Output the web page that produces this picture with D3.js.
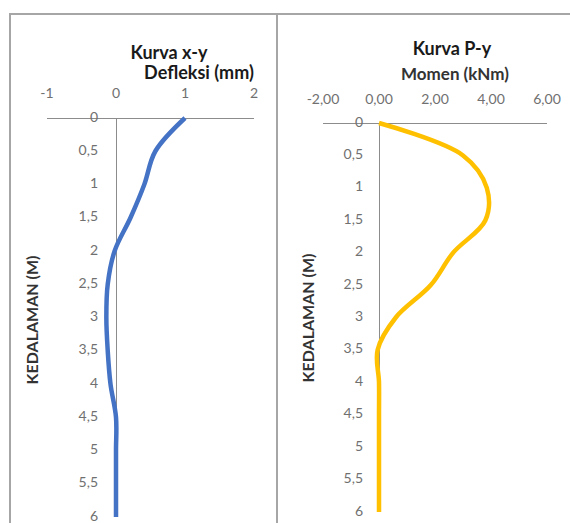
<!DOCTYPE html>
<html>
<head>
<meta charset="utf-8">
<script src="https://cdn.jsdelivr.net/npm/d3@7"></script>
<style>
  html, body { margin: 0; padding: 0; background: #fff; }
  svg { display: block; }
  text { font-family: Lato, "Open Sans", sans-serif; }
</style>
</head>
<body>
<svg id="chart" width="570" height="523"></svg>
<script>
// ---- data ----
const depth = [0, 0.5, 1, 1.5, 2, 2.5, 3, 3.5, 4, 4.5, 5, 5.5, 6];
const deflection = [1.0, 0.57, 0.41, 0.21, -0.02, -0.12, -0.14, -0.12, -0.08, 0, 0, 0, 0];
const moment = [0, 3.0, 3.85, 3.8, 2.65, 1.85, 0.6, -0.05, 0, 0, 0, 0, 0];
const depthTicks = [0, 0.5, 1, 1.5, 2, 2.5, 3, 3.5, 4, 4.5, 5, 5.5, 6];
const deflectionTicks = [-1, 0, 1, 2];
const momentTicks = [-2, 0, 2, 4, 6];
const title1 = "Kurva x-y";
const axisTitle1 = "Defleksi (mm)";
const title2 = "Kurva P-y";
const axisTitle2 = "Momen (kNm)";
const yTitle = "KEDALAMAN (M)";

const svg = d3.select("#chart");
const comma = s => s.replace(".", ",");
const fmtDepth = d => comma(d3.format("")(d));
const fmt2 = d => comma(d3.format(".2f")(d)).replace("−", "-");

// ---- frames ----
const frame = svg.append("g").attr("stroke", "#a6a6a6").attr("stroke-width", 2).attr("fill", "none");
frame.append("line").attr("x1", 10).attr("x2", 570).attr("y1", 14).attr("y2", 14);
frame.append("line").attr("x1", 10).attr("x2", 10).attr("y1", 13).attr("y2", 523);
frame.append("line").attr("x1", 277).attr("x2", 277).attr("y1", 13).attr("y2", 523);

function drawPanel(cfg) {
  const g = svg.append("g");
  const x = d3.scaleLinear().domain(cfg.xDomain).range(cfg.xRange);
  const y = d3.scaleLinear().domain([0, 6]).range(cfg.yRange);

  // x axis line at top (depth 0)
  g.append("line")
    .attr("x1", x(cfg.xDomain[0])).attr("x2", x(cfg.xDomain[1]))
    .attr("y1", y(0) + 0.5).attr("y2", y(0) + 0.5)
    .attr("stroke", "#8c8c8c").attr("stroke-width", 1);
  // y axis line at x = 0
  g.append("line")
    .attr("x1", Math.round(x(0)) + 0.5).attr("x2", Math.round(x(0)) + 0.5)
    .attr("y1", y(0)).attr("y2", y(6))
    .attr("stroke", "#8c8c8c").attr("stroke-width", 1);

  // x tick labels
  g.selectAll("text.xt").data(cfg.xTicks).join("text")
    .attr("class", "xt")
    .attr("x", d => x(d)).attr("y", cfg.xLabelY)
    .attr("text-anchor", "middle").attr("dominant-baseline", "middle")
    .attr("font-size", 14).attr("fill", "#707070")
    .text(cfg.xFmt);

  // y tick labels
  g.selectAll("text.yt").data(depthTicks).join("text")
    .attr("class", "yt")
    .attr("x", cfg.yLabelX).attr("y", d => y(d))
    .attr("text-anchor", "end").attr("dominant-baseline", "middle")
    .attr("font-size", 14).attr("fill", "#707070")
    .text(fmtDepth);

  // line
  const line = d3.line()
    .x((d, i) => x(cfg.values[i]))
    .y(d => y(d))
    .curve(d3.curveCatmullRom.alpha(0.5));
  g.append("path").datum(depth)
    .attr("d", line)
    .attr("fill", "none")
    .attr("stroke", cfg.color)
    .attr("stroke-width", 4.5)
    .attr("stroke-linecap", "butt")
    .attr("stroke-linejoin", "round");

  // titles
  g.append("text").attr("x", cfg.titleX).attr("y", cfg.titleY)
    .attr("text-anchor", "middle").attr("dominant-baseline", "middle")
    .attr("font-size", 18).attr("font-weight", "bold").attr("fill", "#1a1a1a")
    .text(cfg.title);
  g.append("text").attr("x", cfg.axisTitleX).attr("y", cfg.axisTitleY)
    .attr("text-anchor", "middle").attr("dominant-baseline", "middle")
    .attr("font-size", cfg.axisTitleSize).attr("font-weight", "bold").attr("fill", cfg.axisTitleColor)
    .text(cfg.axisTitle);
  g.append("text")
    .attr("transform", `translate(${cfg.yTitleX},${cfg.yTitleY}) rotate(-90)`)
    .attr("text-anchor", "middle").attr("dominant-baseline", "middle")
    .attr("font-size", 16).attr("font-weight", "bold").attr("fill", "#333")
    .text(yTitle);
}

drawPanel({
  xDomain: [-1, 2], xRange: [47, 254], yRange: [118, 517],
  xTicks: deflectionTicks, xFmt: d => d3.format("")(d).replace("−", "-"),
  xLabelY: 94, yLabelX: 98,
  values: deflection, color: "#4472C4",
  title: title1, titleX: 169, titleY: 54,
  axisTitle: axisTitle1, axisTitleX: 199, axisTitleY: 74, axisTitleSize: 18, axisTitleColor: "#1a1a1a",
  yTitleX: 34, yTitleY: 320
});

drawPanel({
  xDomain: [-2, 6], xRange: [323, 547], yRange: [123, 512],
  xTicks: momentTicks, xFmt: fmt2,
  xLabelY: 100, yLabelX: 363,
  values: moment, color: "#FFC000",
  title: title2, titleX: 452, titleY: 50,
  axisTitle: axisTitle2, axisTitleX: 455, axisTitleY: 76, axisTitleSize: 17, axisTitleColor: "#333",
  yTitleX: 310, yTitleY: 318
});
</script>
</body>
</html>
